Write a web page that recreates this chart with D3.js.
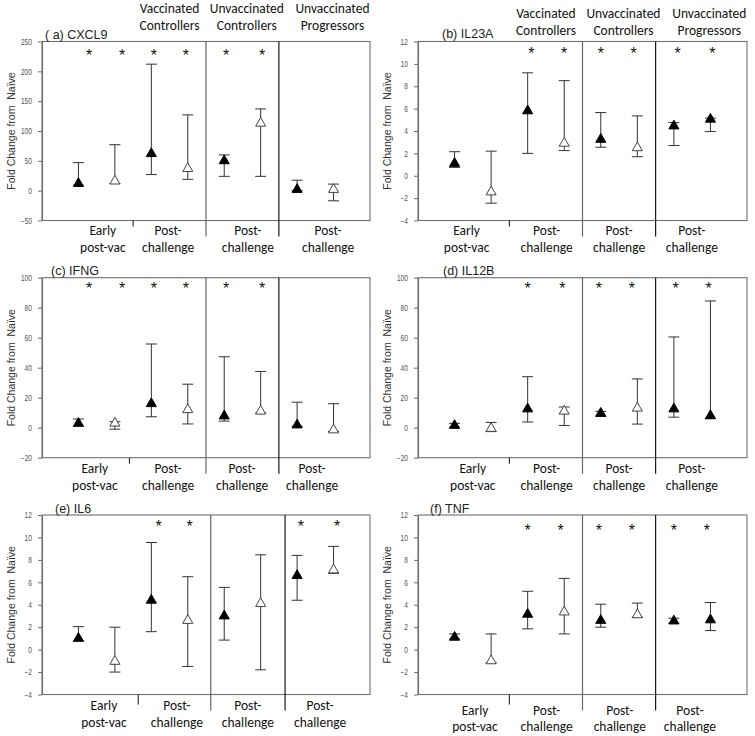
<!DOCTYPE html>
<html>
<head>
<meta charset="utf-8">
<script src="https://cdn.jsdelivr.net/npm/d3@7"></script>
<style>
  html, body { margin: 0; padding: 0; background: #fff; }
  svg { display: block; }
</style>
</head>
<body>
<svg id="chart" width="755" height="736"></svg>
<script>
// ---------------- DATA ----------------
const slots = [1, 2, 3, 4, 5, 6, 7, 8];
const groupHeaders = [["Vaccinated", "Controllers"], ["Unvaccinated", "Controllers"], ["Unvaccinated", "Progressors"]];
const timeLabels = [["Early", "post-vac"], ["Post-", "challenge"], ["Post-", "challenge"], ["Post-", "challenge"]];
const panelTitles = ["( a) CXCL9", "(b) IL23A", "(c) IFNG", "(d) IL12B", "(e) IL6", "(f) TNF"];
const yAxisTitle = "Fold Change from  Naïve";

const ticksCXCL9 = [-50, 0, 50, 100, 150, 200, 250];
const ticksSmall = [-4, -2, 0, 2, 4, 6, 8, 10, 12];
const ticksMid = [-20, 0, 20, 40, 60, 80, 100];

const cxcl9Mean = [12, 16, 62, 37, 50, 113, 2, 2];
const cxcl9Lo   = [9, 12, 27, 19, 24, 24, 0, -17];
const cxcl9Hi   = [47, 77, 212, 127, 60, 137, 17.5, 11];
const cxcl9Filled = [1, 0, 1, 0, 1, 0, 1, 0];
const cxcl9Sig    = [1, 1, 1, 1, 1, 1, 0, 0];

const il23aMean = [1.1, -1.45, 5.8, 2.9, 3.25, 2.5, 4.45, 5.05];
const il23aLo   = [0.75, -2.45, 2.0, 2.25, 2.55, 1.7, 2.7, 3.95];
const il23aHi   = [2.15, 2.2, 9.2, 8.5, 5.65, 5.35, 4.75, 5.15];
const il23aFilled = [1, 0, 1, 0, 1, 0, 1, 1];
const il23aSig    = [0, 0, 1, 1, 1, 1, 1, 1];

const ifngMean = [2.9, 3, 16, 12, 7.8, 11, 1.8, -1.5];
const ifngLo   = [1.1, -1, 7.3, 2.5, 4.4, 9.8, 1, -2.5];
const ifngHi   = [5.8, 4, 55.8, 29, 47.3, 37.5, 17, 16];
const ifngFilled = [1, 0, 1, 0, 1, 0, 1, 0];
const ifngSig    = [1, 1, 1, 1, 1, 1, 0, 0];

const il12bMean = [1.5, -0.5, 12.5, 11, 9.6, 13, 12.5, 8];
const il12bLo   = [0.3, -2.6, 3.8, 1.5, 7.5, 2.4, 7, 6];
const il12bHi   = [2.9, 3.5, 34, 13.8, 10.9, 32.5, 60.5, 84.5];
const il12bFilled = [1, 0, 1, 0, 1, 0, 1, 1];
const il12bSig    = [0, 0, 1, 1, 1, 1, 1, 1];

const il6Mean = [1, -1.05, 4.4, 2.6, 3, 4.1, 6.6, 7.1];
const il6Lo   = [0.8, -2, 1.6, -1.5, 0.85, -1.8, 4.4, 6.8];
const il6Hi   = [2.05, 2, 9.55, 6.5, 5.55, 8.45, 8.4, 9.2];
const il6Filled = [1, 0, 1, 0, 1, 0, 1, 0];
const il6Sig    = [0, 0, 1, 1, 0, 0, 1, 1];

const tnfMean = [1.1, -1, 3.15, 3.35, 2.6, 3.1, 2.55, 2.65];
const tnfLo   = [0.95, -1.15, 1.85, 1.4, 2.0, 2.9, 2.35, 1.7];
const tnfHi   = [1.4, 1.4, 5.2, 6.35, 4.05, 4.15, 2.8, 4.2];
const tnfFilled = [1, 0, 1, 0, 1, 0, 1, 1];
const tnfSig    = [0, 0, 1, 1, 1, 1, 1, 1];

// ---------------- LAYOUT ----------------
const LEFT = [42, 370], RIGHT = [418, 747];
const ROWS = [[41.5, 220.5], [277.7, 457.7], [515, 694.5]];
const panels = [
  { title: panelTitles[0], mean: cxcl9Mean, lo: cxcl9Lo, hi: cxcl9Hi, filled: cxcl9Filled, sig: cxcl9Sig, ticks: ticksCXCL9,
    xr: LEFT, yr: ROWS[0], titleX: 45, titleDy: -3, header: [13, 30], labX: [1.67, 3.46, 5.65, 7.85], labDy: 14.5,
    div: [4.5, 6.5], sep: 2.5, sepLen: 6, starShift: [0.29, 0.2, 0.07, -0.05, 0.05, 0.04, 0, 0], starDy: 10.5 },
  { title: panelTitles[1], mean: il23aMean, lo: il23aLo, hi: il23aHi, filled: il23aFilled, sig: il23aSig, ticks: ticksSmall,
    xr: RIGHT, yr: ROWS[0], titleX: 442, titleDy: -3.5, header: [18, 35], labX: [1.33, 3.52, 5.5, 7.49], labDy: 14.5,
    div: [4.5, 6.5], sep: 2.5, sepLen: 6, starShift: [0, 0, 0.1, 0, 0, -0.1, 0.1, 0.05], starDy: 8.5 },
  { title: panelTitles[2], mean: ifngMean, lo: ifngLo, hi: ifngHi, filled: ifngFilled, sig: ifngSig, ticks: ticksMid,
    xr: LEFT, yr: ROWS[1], titleX: 51, titleDy: -2.5, header: null, labX: [1.45, 3.46, 5.49, 7.41], labDy: 15.5,
    div: [4.5, 6.5], sep: 2.4, sepLen: 6, starShift: [0.29, 0.2, 0.07, -0.05, 0.05, 0.04, 0, 0], starDy: 7.5 },
  { title: panelTitles[3], mean: il12bMean, lo: il12bLo, hi: il12bHi, filled: il12bFilled, sig: il12bSig, ticks: ticksMid,
    xr: RIGHT, yr: ROWS[1], titleX: 443, titleDy: -2.5, header: null, labX: [1.5, 3.52, 5.5, 7.49], labDy: 15.5,
    div: [4.5, 6.5], sep: 2.5, sepLen: 6, starShift: [0, 0, 0, -0.05, -0.05, -0.15, 0.05, -0.05], starDy: 7.5 },
  { title: panelTitles[4], mean: il6Mean, lo: il6Lo, hi: il6Hi, filled: il6Filled, sig: il6Sig, ticks: ticksSmall,
    xr: LEFT, yr: ROWS[2], titleX: 55, titleDy: -2, header: null, labX: [1.7, 3.7, 5.65, 7.63], labDy: 15.5,
    div: [4.63, 6.67], sep: 2.64, sepLen: 10, starShift: [0, 0, 0.2, 0.05, 0, 0, 0.1, 0.1], starDy: 8 },
  { title: panelTitles[5], mean: tnfMean, lo: tnfLo, hi: tnfHi, filled: tnfFilled, sig: tnfSig, ticks: ticksSmall,
    xr: RIGHT, yr: ROWS[2], titleX: 430, titleDy: -2, header: null, labX: [1.56, 3.52, 5.52, 7.44], labDy: 20,
    div: [4.5, 6.5], sep: 2.5, sepLen: 10, starShift: [0, 0, 0, -0.1, -0.05, -0.15, 0, -0.1], starDy: 11.5 }
];

const ARIAL = "'Liberation Sans', Arial, sans-serif";
const CALIBRI = "Carlito, Lato, 'Open Sans', sans-serif";

const svg = d3.select("#chart");
svg.append("rect").attr("width", 755).attr("height", 736).attr("fill", "#fff");

panels.forEach(p => {
  const x = d3.scaleLinear().domain([0, 9]).range(p.xr);
  const yDomain = d3.extent(p.ticks);
  const y = d3.scaleLinear().domain(yDomain).range([p.yr[1], p.yr[0]]);
  const g = svg.append("g");

  // frame
  g.append("rect")
    .attr("x", p.xr[0]).attr("y", p.yr[0])
    .attr("width", p.xr[1] - p.xr[0]).attr("height", p.yr[1] - p.yr[0])
    .attr("fill", "none").attr("stroke", "#6e6e6e").attr("stroke-width", 1.1);

  // y axis
  const ax = g.append("g")
    .attr("transform", `translate(${p.xr[0]},0)`)
    .call(d3.axisLeft(y).tickValues(p.ticks).tickSize(4).tickPadding(6).tickSizeOuter(0));
  ax.select(".domain").attr("stroke", "#6e6e6e").attr("stroke-width", 1.1);
  ax.selectAll(".tick line").attr("stroke", "#6e6e6e");
  ax.selectAll(".tick text")
    .attr("font-family", ARIAL).attr("font-size", 8.5).attr("fill", "#555")
    .each(function () {
      const L = this.getComputedTextLength();
      d3.select(this).attr("textLength", L * 0.78).attr("lengthAdjust", "spacingAndGlyphs");
    });

  // y axis title
  const yMid = (p.yr[0] + p.yr[1]) / 2;
  const tx = p.xr[0] - 27;
  g.append("text")
    .attr("transform", `translate(${tx},${yMid}) rotate(-90)`)
    .attr("text-anchor", "middle")
    .attr("font-family", ARIAL).attr("font-size", 10.5).attr("fill", "#333")
    .attr("xml:space", "preserve")
    .text(yAxisTitle);

  // panel title
  g.append("text")
    .attr("x", p.titleX).attr("y", p.yr[0] + p.titleDy)
    .attr("font-family", ARIAL).attr("font-size", 12.5).attr("fill", "#222")
    .text(p.title);

  // dividers
  p.div.forEach((d, i) => {
    g.append("line")
      .attr("x1", x(d)).attr("x2", x(d))
      .attr("y1", p.yr[0]).attr("y2", p.yr[1] + 16)
      .attr("stroke", i === 0 ? "#666" : "#1a1a1a").attr("stroke-width", 1.2);
  });
  g.append("line")
    .attr("x1", x(p.sep)).attr("x2", x(p.sep))
    .attr("y1", p.yr[1]).attr("y2", p.yr[1] + p.sepLen)
    .attr("stroke", "#333").attr("stroke-width", 1.2);

  // bottom labels
  timeLabels.forEach((lab, i) => {
    const t = g.append("text")
      .attr("text-anchor", "middle")
      .attr("font-family", CALIBRI).attr("font-size", 13.5).attr("fill", "#111");
    t.append("tspan").attr("x", x(p.labX[i])).attr("y", p.yr[1] + p.labDy).text(lab[0]);
    t.append("tspan").attr("x", x(p.labX[i])).attr("y", p.yr[1] + p.labDy + 16.5).text(lab[1]);
  });

  // headers (top row)
  if (p.header) {
    const hx = [3.5, 5.62, 7.97];
    groupHeaders.forEach((h, i) => {
      const t = g.append("text")
        .attr("text-anchor", "middle")
        .attr("font-family", CALIBRI).attr("font-size", 13.5).attr("fill", "#111");
      t.append("tspan").attr("x", x(hx[i])).attr("y", p.header[0]).text(h[0]);
      t.append("tspan").attr("x", x(hx[i])).attr("y", p.header[1]).text(h[1]);
    });
  }

  // data rows
  const rows = slots.map((s, i) => ({
    s, mean: p.mean[i], lo: p.lo[i], hi: p.hi[i], filled: p.filled[i], sig: p.sig[i], shift: p.starShift[i]
  }));

  // error bars
  const eb = g.append("g").attr("stroke", "#333").attr("stroke-width", 1);
  rows.forEach(r => {
    const cx = x(r.s);
    eb.append("line").attr("x1", cx).attr("x2", cx).attr("y1", y(r.lo)).attr("y2", y(r.hi));
    eb.append("line").attr("x1", cx - 5.5).attr("x2", cx + 5.5).attr("y1", y(r.hi)).attr("y2", y(r.hi));
    eb.append("line").attr("x1", cx - 5.5).attr("x2", cx + 5.5).attr("y1", y(r.lo)).attr("y2", y(r.lo));
  });

  // triangles
  const tri = d3.symbol().type(d3.symbolTriangle).size(44);
  g.selectAll("path.pt").data(rows).enter().append("path")
    .attr("class", "pt")
    .attr("d", tri)
    .attr("transform", r => `translate(${x(r.s)},${y(r.mean)})`)
    .attr("fill", r => r.filled ? "#000" : "#fff")
    .attr("stroke", r => r.filled ? "#000" : "#444")
    .attr("stroke-width", 1);

  // significance stars
  g.selectAll("text.star").data(rows.filter(r => r.sig)).enter().append("text")
    .attr("class", "star")
    .attr("x", r => x(r.s + r.shift))
    .attr("y", p.yr[0] + p.starDy + 9)
    .attr("text-anchor", "middle")
    .attr("font-family", ARIAL).attr("font-size", 16).attr("fill", "#111")
    .text("*");
});
</script>
</body>
</html>
